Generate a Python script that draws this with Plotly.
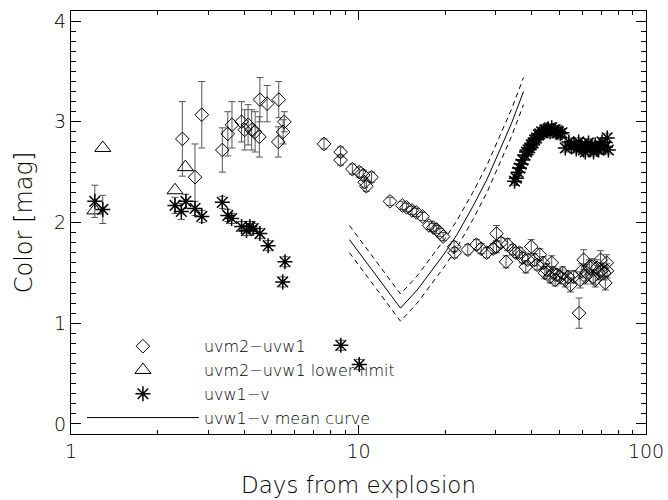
import plotly.graph_objects as go

# ---------------- data ----------------
# uvm2-uvw1 colour (diamonds)
d_days = [2.44, 2.70, 2.85, 3.36, 3.51, 3.63, 3.92, 4.02, 4.13, 4.25, 4.37, 4.52, 4.54, 4.81, 5.28, 5.26, 5.47, 5.52,
          7.59, 8.66, 8.66, 9.52, 10.06, 10.39, 11.1, 10.5, 10.65, 12.87, 14.2, 14.7, 15.35, 15.9, 16.7, 17.6, 18.2,
          18.7, 19.2, 19.7,
          21.5, 21.6, 24.0, 25.7, 26.7, 27.9, 29.4, 30.2, 30.2, 31.3, 32.6, 33.0, 34.4, 35.3, 36.3, 37.2, 38.2, 38.8,
          39.9, 41.0, 41.8, 42.7, 43.9, 44.5, 45.1, 46.4, 47.0, 47.6, 48.3, 49.0, 50.3, 51.3, 52.4, 53.5, 54.6, 56.0,
          58.5, 59.0, 59.8, 60.7, 61.5, 62.2, 63.5, 64.8, 65.5, 66.6, 67.5, 68.5, 69.5, 70.5, 71.5, 72.2, 73.0, 73.2]
d_col = [2.83, 2.45, 3.07, 2.72, 2.88, 2.97, 3.00, 2.92, 2.97, 2.92, 2.90, 2.85, 3.22, 3.18, 3.22, 2.80, 2.90, 3.00,
         2.78, 2.70, 2.62, 2.53, 2.50, 2.47, 2.45, 2.40, 2.36, 2.21, 2.17, 2.15, 2.12, 2.10, 2.06, 1.97, 1.95,
         1.93, 1.90, 1.86,
         1.76, 1.70, 1.73, 1.78, 1.74, 1.70, 1.74, 1.89, 1.76, 1.80, 1.61, 1.78, 1.73, 1.70, 1.70, 1.65, 1.56, 1.63,
         1.76, 1.63, 1.58, 1.68, 1.60, 1.50, 1.53, 1.46, 1.60, 1.50, 1.43, 1.48, 1.46, 1.50, 1.43, 1.46, 1.38, 1.46,
         1.10, 1.43, 1.52, 1.63, 1.46, 1.50, 1.56, 1.56, 1.46, 1.43, 1.55, 1.50, 1.63, 1.53, 1.50, 1.40, 1.60, 1.52]
d_err = [0.37, 0.33, 0.33, 0.22, 0.22, 0.23, 0.20, 0.20, 0.20, 0.20, 0.20, 0.20, 0.22, 0.18, 0.18, 0.15, 0.12, 0.10,
         0.05, 0.05, 0.05, 0.05, 0.05, 0.05, 0.05, 0.05, 0.05, 0.04, 0.04, 0.04, 0.04, 0.04, 0.04, 0.04, 0.04,
         0.04, 0.04, 0.04,
         0.05, 0.05, 0.05, 0.05, 0.05, 0.05, 0.05, 0.08, 0.06, 0.05, 0.06, 0.06, 0.05, 0.05, 0.05, 0.05, 0.06, 0.05,
         0.07, 0.06, 0.05, 0.06, 0.06, 0.06, 0.06, 0.06, 0.07, 0.06, 0.06, 0.06, 0.07, 0.06, 0.07, 0.06, 0.07, 0.06,
         0.15, 0.08, 0.07, 0.10, 0.07, 0.08, 0.07, 0.08, 0.07, 0.07, 0.08, 0.07, 0.09, 0.07, 0.07, 0.07, 0.08, 0.07]

# uvm2-uvw1 lower limits (triangles)
t_days = [1.21, 1.29, 2.30, 2.50]
t_col = [2.12, 2.74, 2.32, 2.55]

# uvw1-v colour (asterisks)
a_days = [1.21, 1.29, 2.30, 2.42, 2.51, 2.70, 2.85, 3.36, 3.51, 3.62, 3.92, 4.08, 4.19, 4.30, 4.54, 4.85, 5.55, 5.45,
          8.68, 10.06,
          34.9, 35.4, 35.9, 36.3, 36.8, 37.3, 37.9, 38.4, 38.9, 39.4, 39.9, 40.5, 41.0, 41.6, 42.2, 42.7, 43.3, 43.9,
          44.5, 45.1, 45.7, 46.4, 47.0, 47.6, 48.3, 49.0, 49.6, 50.3, 51.0, 52.4, 53.9, 55.0, 56.2, 57.2, 58.3, 59.0,
          59.8, 60.6, 61.5, 62.3, 63.1, 64.0, 64.8, 65.7, 66.6, 67.5, 68.4, 69.3, 70.3, 71.2, 72.2, 73.3, 74.0]
a_col = [2.21, 2.13, 2.17, 2.11, 2.21, 2.14, 2.06, 2.20, 2.07, 2.04, 1.96, 1.92, 1.96, 1.94, 1.89, 1.77, 1.61, 1.41,
         0.78, 0.59,
         2.41, 2.44, 2.50, 2.54, 2.58, 2.62, 2.67, 2.70, 2.72, 2.74, 2.77, 2.79, 2.82, 2.84, 2.87, 2.88, 2.90, 2.89,
         2.92, 2.91, 2.93, 2.90, 2.94, 2.91, 2.92, 2.89, 2.90, 2.88, 2.89, 2.74, 2.80, 2.76, 2.77, 2.73, 2.80, 2.76,
         2.75, 2.72, 2.70, 2.76, 2.79, 2.73, 2.74, 2.70, 2.77, 2.73, 2.72, 2.76, 2.80, 2.74, 2.75, 2.84, 2.72]
a_err = [0.16, 0.14, 0.08, 0.08, 0.07, 0.07, 0.06, 0.06, 0.06, 0.05, 0.05, 0.05, 0.05, 0.05, 0.05, 0.05, 0.05, 0.05,
         0.05, 0.05] + [0.04] * 53

# uvw1-v mean curve with its +/- band
m_days = [9.3, 10.0, 11.0, 12.0, 13.0, 14.0, 16.0, 18.0, 20.0, 22.0, 25.0, 28.0, 31.0, 34.0, 37.5]
m_col = [1.83, 1.71, 1.55, 1.41, 1.27, 1.15, 1.33, 1.52, 1.70, 1.88, 2.16, 2.43, 2.71, 2.98, 3.30]
m_hi = [1.97, 1.85, 1.69, 1.55, 1.41, 1.29, 1.47, 1.66, 1.84, 2.02, 2.30, 2.57, 2.85, 3.12, 3.44]
m_lo = [1.70, 1.58, 1.42, 1.28, 1.14, 1.02, 1.20, 1.39, 1.57, 1.75, 2.03, 2.30, 2.58, 2.85, 3.17]

x_ticks = [1, 10, 100]
x_minor = [2, 3, 4, 5, 6, 7, 8, 9, 20, 30, 40, 50, 60, 70, 80, 90]

FONT = "DejaVu Sans"
W = 200
ERRC = "#555555"

fig = go.Figure()

fig.add_trace(go.Scatter(
    x=d_days, y=d_col, mode="markers", name="uvm2\u2212uvw1",
    marker=dict(symbol="diamond-open", size=10.5, color="black", line=dict(width=1, color="black")),
    error_y=dict(type="data", array=d_err, color=ERRC, thickness=1, width=3.5),
))
fig.add_trace(go.Scatter(
    x=t_days, y=t_col, mode="markers", name="uvm2\u2212uvw1 lower limit",
    marker=dict(symbol="triangle-up-open", size=14, color="black", line=dict(width=1, color="black")),
))
fig.add_trace(go.Scatter(
    x=a_days, y=a_col, mode="markers", name="uvw1\u2212v",
    marker=dict(symbol="asterisk-open", size=12.5, color="black", line=dict(width=1.5, color="black")),
    error_y=dict(type="data", array=a_err, color=ERRC, thickness=1, width=3.5),
))
fig.add_trace(go.Scatter(
    x=m_days, y=m_col, mode="lines", name="uvw1\u2212v mean curve",
    line=dict(color="black", width=1),
))
for band in (m_hi, m_lo):
    fig.add_trace(go.Scatter(
        x=m_days, y=band, mode="lines", showlegend=False,
        line=dict(color="black", width=1, dash="5px,4px"),
    ))

axis_common = dict(
    showline=True, linecolor="black", linewidth=1, mirror="allticks",
    ticks="inside", tickcolor="black", showgrid=False, zeroline=False,
    automargin=False,
    tickfont=dict(family=FONT, size=19, color="black", weight=W),
)

fig.update_xaxes(
    type="log", range=[0, 2], tickmode="array", tickvals=x_ticks,
    ticktext=[str(v) for v in x_ticks], ticklen=9,
    minor=dict(tickmode="array", tickvals=x_minor, ticks="inside", ticklen=4, tickcolor="black", showgrid=False),
    title=dict(text="Days from explosion", font=dict(family=FONT, size=23, color="black", weight=W), standoff=16),
    **axis_common,
)
fig.update_yaxes(
    range=[-0.1, 4.1], tickmode="linear", tick0=0, dtick=1, ticklen=10,
    minor=dict(dtick=0.1, ticks="inside", ticklen=5, tickcolor="black", showgrid=False),
    title=dict(text="Color [mag]", font=dict(family=FONT, size=24, color="black", weight=W), standoff=14),
    **axis_common,
)

fig.update_layout(
    width=668, height=500,
    margin=dict(l=71, r=22, t=11, b=66),
    paper_bgcolor="white", plot_bgcolor="white",
    font=dict(family=FONT, color="black"),
    legend=dict(
        x=0.019, y=-0.003, xanchor="left", yanchor="bottom",
        bgcolor="rgba(0,0,0,0)", borderwidth=0,
        font=dict(family=FONT, size=16, color="black", weight=W),
        itemwidth=112, tracegroupgap=0,
    ),
)

fig.write_html("out.html")
